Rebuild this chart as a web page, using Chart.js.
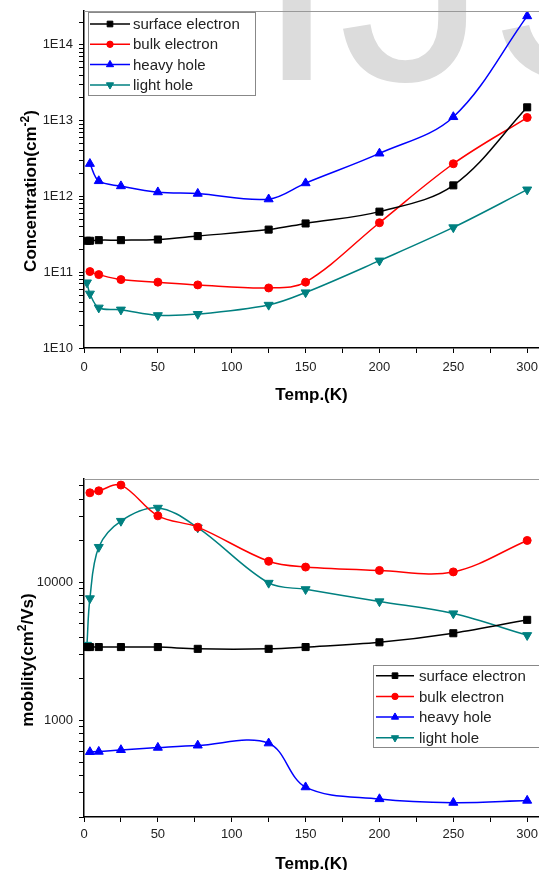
<!DOCTYPE html>
<html>
<head>
<meta charset="utf-8">
<script src="https://cdn.jsdelivr.net/npm/chart.js@4.4.1/dist/chart.umd.min.js"></script>
<style>
  html, body { margin: 0; padding: 0; background: #fff; overflow: hidden; }
  canvas { display: block; }
</style>
</head>
<body>
<canvas id="concChart" width="539" height="440"></canvas>
<canvas id="mobChart" width="539" height="440"></canvas>
<script>
// Temperatures (K) shared by every series
const temps = [2, 4, 10, 25, 50, 77, 125, 150, 200, 250, 300];
const seriesNames = ['surface electron', 'bulk electron', 'heavy hole', 'light hole'];

// Concentration (cm^-2)
const concSurface = [2.6e11, 2.6e11, 2.65e11, 2.65e11, 2.7e11, 3.0e11, 3.65e11, 4.4e11, 6.3e11, 1.4e12, 1.5e13];
const concBulk    = [null, 1.02e11, 9.3e10, 8.0e10, 7.4e10, 6.8e10, 6.2e10, 7.4e10, 4.5e11, 2.7e12, 1.1e13];
const concHeavy   = [null, 2.7e12, 1.6e12, 1.37e12, 1.14e12, 1.09e12, 9.2e11, 1.5e12, 3.7e12, 1.12e13, 2.4e14];
const concLight   = [7.3e10, 5.2e10, 3.4e10, 3.2e10, 2.7e10, 2.8e10, 3.7e10, 5.4e10, 1.42e11, 3.9e11, 1.23e12];

// Mobility (cm^2/Vs)
const mobSurface = [3400, 3400, 3400, 3400, 3400, 3300, 3300, 3400, 3680, 4280, 5350];
const mobBulk    = [null, 44500, 46000, 50600, 30300, 25100, 14200, 12900, 12200, 11900, 20100];
const mobHeavy   = [null, 592, 595, 612, 636, 660, 684, 329, 270, 254, 263];
const mobLight   = [3520, 7650, 18000, 27800, 34600, 24900, 9900, 8900, 7270, 5950, 4140];

// Axis ticks
const xTicks = [0, 25, 50, 75, 100, 125, 150, 175, 200, 225, 250, 275, 300];
const concMajorTicks = [1e10, 1e11, 1e12, 1e13, 1e14];
const concTickLabels = ['1E10', '1E11', '1E12', '1E13', '1E14'];
const mobMajorTicks = [1000, 10000];
const mobTickLabels = ['1000', '10000'];
const minorSteps = [2, 3, 4, 5, 6, 7, 8, 9];

const fontFamily = '"Liberation Sans", Arial, sans-serif';
Chart.defaults.font.family = fontFamily;

const seriesStyles = [
    { color: '#000000', pointStyle: 'rect', radius: 5, rotation: 0 },
    { color: '#ff0000', pointStyle: 'circle', radius: 4, rotation: 0 },
    { color: '#0000ff', pointStyle: 'triangle', radius: 5.2, rotation: 0 },
    { color: '#008080', pointStyle: 'triangle', radius: 5.2, rotation: 180 }
];

function makeDatasets(valueLists) {
    return valueLists.map((values, i) => {
        const st = seriesStyles[i];
        return {
            label: seriesNames[i],
            data: temps.map((t, k) => ({ x: t, y: values[k] })).filter(p => p.y !== null),
            borderColor: st.color,
            backgroundColor: st.color,
            borderWidth: 1.5,
            pointStyle: st.pointStyle,
            pointRadius: st.radius,
            pointRotation: st.rotation,
            pointBorderWidth: 1,
            tension: 0.35
        };
    });
}

function withMinors(majors, min, max) {
    const ticks = [];
    majors.concat([majors[0] / 10]).forEach(d => {
        ticks.push(d);
        minorSteps.forEach(m => ticks.push(d * m));
    });
    return ticks.filter(v => v >= min && v <= max).sort((a, b) => a - b);
}

// Drop the automatic label overflow padding so the plot box is set by layout only
function noPadding(scale) {
    scale.paddingTop = 0;
    scale.paddingBottom = 0;
    scale.paddingLeft = 0;
    scale.paddingRight = 0;
}

function makeScales(cfg) {
    const yTicks = withMinors(cfg.majors, cfg.yMin, cfg.yMax);
    return {
        x: {
            type: 'linear',
            min: 0,
            max: 308,
            afterBuildTicks: (scale) => { scale.ticks = xTicks.map(v => ({ value: v })); },
            afterFit: noPadding,
            grid: { drawOnChartArea: false, tickLength: 5, tickColor: '#000' },
            border: { color: '#000', width: 1.5 },
            ticks: {
                autoSkip: false,
                maxRotation: 0,
                padding: cfg.xPad,
                color: '#222',
                font: { size: 13 },
                callback: (v) => (v % 50 === 0 ? String(v) : '')
            },
            title: {
                display: true,
                text: 'Temp.(K)',
                color: '#000',
                font: { size: 17, weight: 'bold' },
                padding: cfg.xTitlePad
            }
        },
        y: {
            type: 'logarithmic',
            min: cfg.yMin,
            max: cfg.yMax,
            afterBuildTicks: (scale) => { scale.ticks = yTicks.map(v => ({ value: v })); },
            afterFit: (scale) => { scale.width = 84; noPadding(scale); },
            grid: { drawOnChartArea: false, tickLength: 5, tickColor: '#000' },
            border: { color: '#000', width: 1.5 },
            ticks: {
                autoSkip: false,
                padding: 6,
                color: '#222',
                font: { size: 13 },
                callback: (v) => {
                    const i = cfg.majors.indexOf(v);
                    return i >= 0 ? cfg.labels[i] : '';
                }
            }
        }
    };
}

// Grey top frame line
const topFrame = {
    id: 'topFrame',
    afterDraw(chart) {
        const { ctx, chartArea } = chart;
        ctx.save();
        ctx.strokeStyle = '#999';
        ctx.lineWidth = 1;
        ctx.beginPath();
        ctx.moveTo(chartArea.left, chartArea.top + 0.5);
        ctx.lineTo(chartArea.right, chartArea.top + 0.5);
        ctx.stroke();
        ctx.restore();
    }
};

// Rotated y title with superscript
const sideTitle = {
    id: 'sideTitle',
    afterDraw(chart, args, opts) {
        const ctx = chart.ctx;
        const size = 17;
        const base = `bold ${size}px ${fontFamily}`;
        const sup = `bold ${Math.round(size * 0.7)}px ${fontFamily}`;
        ctx.save();
        ctx.translate(opts.x, opts.y);
        ctx.rotate(-Math.PI / 2);
        ctx.fillStyle = '#000';
        ctx.textBaseline = 'alphabetic';
        ctx.textAlign = 'left';
        let total = 0;
        const widths = opts.parts.map(p => {
            ctx.font = p.sup ? sup : base;
            const w = ctx.measureText(p.text).width;
            total += w;
            return w;
        });
        let u = -total / 2;
        opts.parts.forEach((p, i) => {
            ctx.font = p.sup ? sup : base;
            ctx.fillText(p.text, u, p.sup ? -size * 0.42 : 0);
            u += widths[i];
        });
        ctx.restore();
    }
};

// Boxed legend inside the plot
const boxLegend = {
    id: 'boxLegend',
    afterDraw(chart, args, opts) {
        const ctx = chart.ctx;
        ctx.save();
        ctx.fillStyle = '#fff';
        ctx.fillRect(opts.x, opts.y, opts.w, opts.h);
        ctx.strokeStyle = '#888';
        ctx.lineWidth = 1;
        ctx.strokeRect(opts.x + 0.5, opts.y + 0.5, opts.w, opts.h);
        chart.data.datasets.forEach((ds, i) => {
            const cy = opts.firstRow + i * opts.rowGap;
            ctx.strokeStyle = ds.borderColor;
            ctx.lineWidth = 1.5;
            ctx.beginPath();
            ctx.moveTo(opts.lineX0, cy);
            ctx.lineTo(opts.lineX1, cy);
            ctx.stroke();
            ctx.fillStyle = ds.backgroundColor;
            ctx.lineWidth = 1;
            Chart.helpers.drawPoint(ctx, {
                pointStyle: ds.pointStyle,
                rotation: ds.pointRotation,
                radius: ds.pointRadius * 0.8,
                borderWidth: 1
            }, (opts.lineX0 + opts.lineX1) / 2, cy);
            ctx.fillStyle = '#222';
            ctx.font = `15px ${fontFamily}`;
            ctx.textBaseline = 'middle';
            ctx.textAlign = 'left';
            ctx.fillText(ds.label, opts.textX, cy + 1);
        });
        ctx.restore();
    }
};

// Faint watermark behind the upper plot
const watermark = {
    id: 'watermark',
    beforeDraw(chart) {
        const ctx = chart.ctx;
        ctx.save();
        ctx.fillStyle = '#dcdcdc';
        ctx.font = `300px ${fontFamily}`;
        ctx.textBaseline = 'alphabetic';
        ctx.fillText('IJSER', 255, 80);
        ctx.restore();
    }
};

new Chart(document.getElementById('concChart'), {
    type: 'line',
    data: { datasets: makeDatasets([concSurface, concBulk, concHeavy, concLight]) },
    options: {
        responsive: false,
        animation: false,
        layout: { autoPadding: false, padding: { top: 11, right: 0, bottom: 34, left: 0 } },
        scales: makeScales({
            yMin: 1e10, yMax: 2.8e14,
            majors: concMajorTicks, labels: concTickLabels,
            xPad: 7, xTitlePad: { top: 3, bottom: 0 }
        }),
        plugins: {
            legend: { display: false },
            tooltip: { enabled: false },
            sideTitle: { x: 36, y: 191, parts: [{ text: 'Concentration(cm' }, { text: '-2', sup: true }, { text: ')' }] },
            boxLegend: { x: 88, y: 12, w: 167, h: 83, firstRow: 24, rowGap: 20.3, lineX0: 90, lineX1: 130, textX: 133 }
        }
    },
    plugins: [watermark, topFrame, sideTitle, boxLegend]
});

new Chart(document.getElementById('mobChart'), {
    type: 'line',
    data: { datasets: makeDatasets([mobSurface, mobBulk, mobHeavy, mobLight]) },
    options: {
        responsive: false,
        animation: false,
        layout: { autoPadding: false, padding: { top: 39, right: 0, bottom: 0, left: 0 } },
        scales: makeScales({
            yMin: 200, yMax: 56000,
            majors: mobMajorTicks, labels: mobTickLabels,
            xPad: 5, xTitlePad: { top: 7, bottom: 5 }
        }),
        plugins: {
            legend: { display: false },
            tooltip: { enabled: false },
            sideTitle: { x: 33, y: 220, parts: [{ text: 'mobility(cm' }, { text: '2', sup: true }, { text: '/Vs)' }] },
            boxLegend: { x: 373, y: 225, w: 175, h: 82, firstRow: 235.7, rowGap: 20.7, lineX0: 376, lineX1: 414, textX: 419 }
        }
    },
    plugins: [topFrame, sideTitle, boxLegend]
});
</script>
</body>
</html>
